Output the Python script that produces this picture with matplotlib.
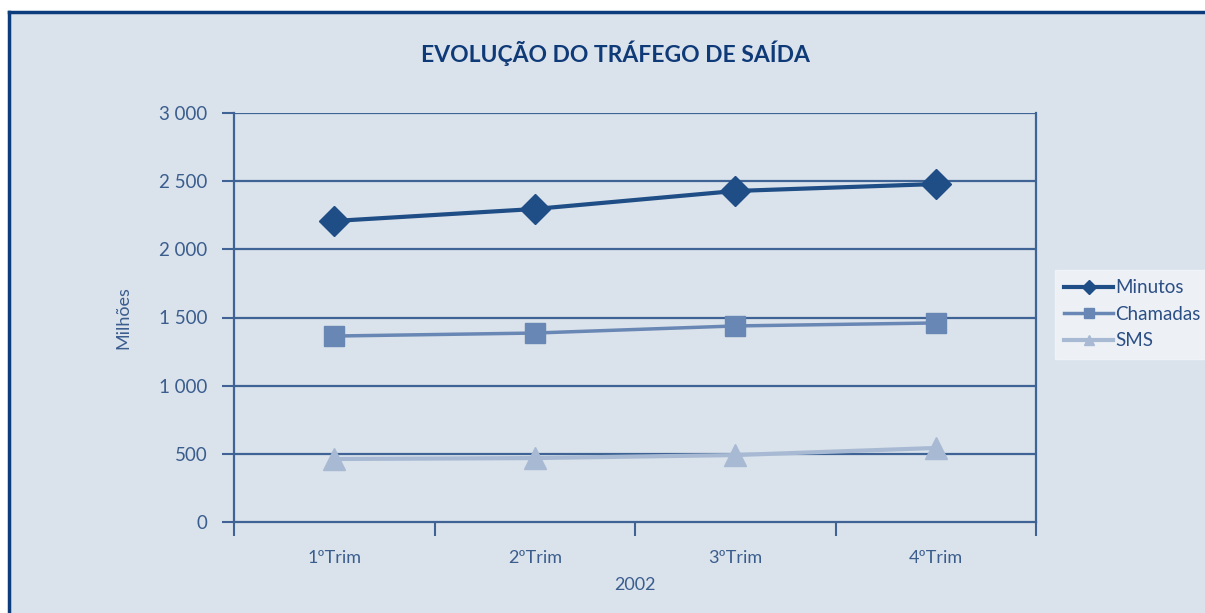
import matplotlib.pyplot as plt
from matplotlib.patches import Rectangle
from matplotlib.lines import Line2D

plt.rcParams['font.family'] = ['Lato', 'DejaVu Sans']

# Dados (milhões)
trimestres = ['1ºTrim', '2ºTrim', '3ºTrim', '4ºTrim']
minutos = [2208, 2296, 2428, 2479]
chamadas = [1364, 1386, 1438, 1460]
sms = [462, 469, 491, 543]
yticks = [0, 500, 1000, 1500, 2000, 2500, 3000]
ytick_labels = ['0', '500', '1 000', '1 500', '2 000', '2 500', '3 000']

bg = '#dae2eb'
grid_col = '#3e6394'
txt_col = '#3a5d8e'
c_min = '#1f4d86'
c_cha = '#6987b4'
c_sms = '#a8bad3'

fig = plt.figure(figsize=(12.05, 6.13), dpi=100)
fig.patch.set_facecolor('white')
# fundo e moldura
fig.add_artist(Rectangle((8 / 1205, 0), 1.0, 1 - 11 / 613,
                         transform=fig.transFigure, facecolor=bg,
                         edgecolor='none', zorder=-5))
fig.add_artist(Line2D([8.5 / 1205, 1.0], [1 - 12 / 613, 1 - 12 / 613],
                      transform=fig.transFigure, color='#0d3c7c', lw=2.5, zorder=-4))
fig.add_artist(Line2D([9 / 1205, 9 / 1205], [0, 1 - 12 / 613],
                      transform=fig.transFigure, color='#0d3c7c', lw=2.5, zorder=-4))

ax = fig.add_axes([234 / 1205, 1 - 522 / 613, 802 / 1205, 409 / 613])
ax.set_facecolor(bg)

x = range(len(trimestres))
ax.plot(x, minutos, color=c_min, lw=3, marker='D', ms=15, label='Minutos', zorder=5)
ax.plot(x, chamadas, color=c_cha, lw=2.5, marker='s', ms=14, label='Chamadas', zorder=4)
ax.plot(x, sms, color=c_sms, lw=3, marker='^', ms=16, label='SMS', zorder=4)

ax.set_xlim(-0.5, 3.5)
ax.set_ylim(0, 3000)
ax.set_yticks(yticks)
ax.set_yticklabels(ytick_labels)
ax.set_xticks([-0.5, 0.5, 1.5, 2.5, 3.5])
ax.set_xticklabels([])
ax.set_xticks(list(x), minor=True)
ax.set_xticklabels(trimestres, minor=True)
ax.tick_params(axis='x', which='minor', length=0, pad=20, labelsize=13, labelcolor=txt_col)
ax.tick_params(axis='x', which='major', length=10, width=1.5, color=grid_col)
ax.tick_params(axis='y', length=9, width=1.5, color=grid_col, pad=10,
               labelsize=13.5, labelcolor=txt_col)

for yv in yticks[1:]:
    ax.axhline(yv, color=grid_col, lw=1.6, zorder=1)
ax.spines['top'].set_visible(False)
for s in ['left', 'right', 'bottom']:
    ax.spines[s].set_color(grid_col)
    ax.spines[s].set_linewidth(1.6)

ax.set_xlabel('2002', color=txt_col, fontsize=13, labelpad=8)
ax.set_ylabel('Milhões', color=txt_col, fontsize=13, labelpad=20)

fig.text(615 / 1205, 1 - 53 / 613, 'EVOLUÇÃO DO TRÁFEGO DE SAÍDA',
         ha='center', va='center', fontsize=16.5, fontweight='bold', color='#0f3a78')

handles = [Line2D([], [], color=c_min, lw=3, marker='D', ms=7),
           Line2D([], [], color=c_cha, lw=2.5, marker='s', ms=7),
           Line2D([], [], color=c_sms, lw=3, marker='^', ms=7)]
leg = fig.legend(handles, ['Minutos', 'Chamadas', 'SMS'], loc='upper left',
                 bbox_to_anchor=(1055 / 1205, 1 - 270 / 613), fontsize=13.5,
                 frameon=True, fancybox=False, handlelength=2.6, handletextpad=0.1,
                 borderpad=0.5, labelspacing=0.5, borderaxespad=0)
leg.get_frame().set_facecolor('#f3f6fa')
leg.get_frame().set_edgecolor('#f3f6fa')
for t in leg.get_texts():
    t.set_color('#2b4f85')

fig.savefig('out.png', dpi=100)
